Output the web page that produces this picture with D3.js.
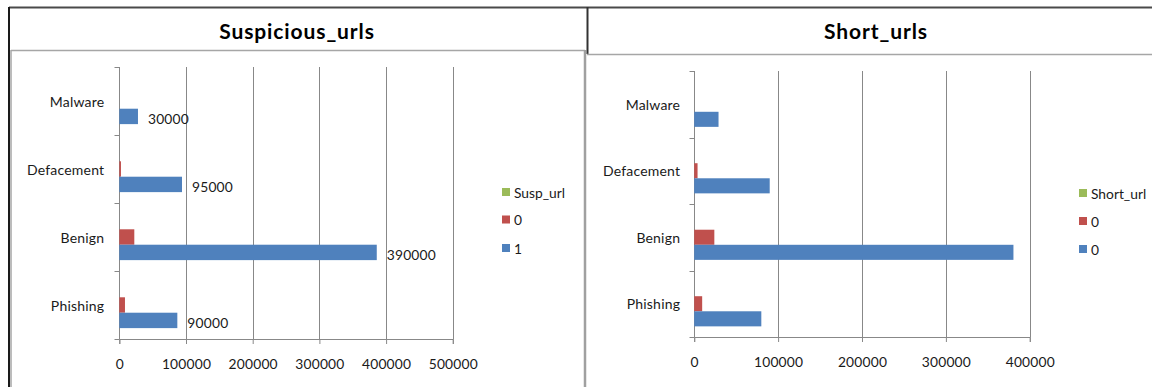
<!DOCTYPE html>
<html><head><meta charset="utf-8">
<script src="https://cdn.jsdelivr.net/npm/d3@7"></script>
<style>
html,body{margin:0;padding:0;background:#fff;}
svg{display:block;}
text{font-family:Lato,"Open Sans",sans-serif;fill:#1a1a1a;}
</style></head>
<body>
<svg id="c" width="1152" height="387"></svg>
<script>
// ---- data ----
const categories = ["Malware", "Defacement", "Benign", "Phishing"];

const suspTitle = "Suspicious_urls";
const suspSeriesNames = ["Susp_url", "0", "1"];
const suspUrl = [0, 0, 0, 0];
const susp0 = [0, 2500, 22500, 8500];
const susp1 = [28000, 94000, 386000, 87000];
const susp1Labels = ["30000", "95000", "390000", "90000"];
const suspTicks = [0, 100000, 200000, 300000, 400000, 500000];

const shortTitle = "Short_urls";
const shortSeriesNames = ["Short_url", "0", "0"];
const shortUrl = [0, 0, 0, 0];
const short0a = [0, 4000, 24000, 9500];
const short0b = [29000, 90000, 380500, 80000];
const shortTicks = [0, 100000, 200000, 300000, 400000];

const colors = ["#9BBB59", "#C0504D", "#4F81BD"];

const svg = d3.select("#c");

// ---- frames ----
const frame = svg.append("g");
frame.append("line").attr("x1", 9).attr("x2", 1152).attr("y1", 7.5).attr("y2", 7.5).attr("stroke", "#4a4a4a").attr("stroke-width", 2);
frame.append("line").attr("x1", 9).attr("x2", 9).attr("y1", 7).attr("y2", 387).attr("stroke", "#1a1a1a").attr("stroke-width", 2);
frame.append("line").attr("x1", 11).attr("x2", 585).attr("y1", 50.5).attr("y2", 50.5).attr("stroke", "#a6a6a6").attr("stroke-width", 1.5);
frame.append("line").attr("x1", 11).attr("x2", 11).attr("y1", 50).attr("y2", 387).attr("stroke", "#a6a6a6").attr("stroke-width", 1.5);
frame.append("line").attr("x1", 585).attr("x2", 585).attr("y1", 50).attr("y2", 387).attr("stroke", "#a0a0a0").attr("stroke-width", 2.5);
frame.append("line").attr("x1", 587.5).attr("x2", 587.5).attr("y1", 7).attr("y2", 54).attr("stroke", "#333").attr("stroke-width", 2);
frame.append("line").attr("x1", 587).attr("x2", 1152).attr("y1", 54.5).attr("y2", 54.5).attr("stroke", "#a6a6a6").attr("stroke-width", 1.5);

function drawChart(cfg) {
  const g = svg.append("g");
  g.append("text").attr("x", cfg.titleX).attr("y", 39).attr("text-anchor", "middle")
    .style("font-weight", "bold").style("font-size", "21px").style("letter-spacing", "0.9px")
    .style("fill", "#000").text(cfg.title);

  const x = d3.scaleLinear().domain([0, cfg.ticks[cfg.ticks.length - 1]]).range([cfg.x0, cfg.x1]);
  const y = d3.scaleBand().domain(categories).range([cfg.y0, cfg.y1]).paddingInner(0.32).paddingOuter(0.16);
  const yStep = d3.scaleBand().domain(categories).range([cfg.y0, cfg.y1]);
  const ys = d3.scaleBand().domain([0, 1, 2]).range([0, y.bandwidth()]);

  // gridlines
  g.append("g").selectAll("line").data(cfg.ticks.slice(1)).join("line")
    .attr("x1", d => Math.round(x(d)) + 0.5).attr("x2", d => Math.round(x(d)) + 0.5)
    .attr("y1", cfg.y0).attr("y2", cfg.y1).attr("stroke", "#888").attr("stroke-width", 1);

  // x axis
  const xAxis = g.append("g").attr("transform", `translate(0,${cfg.y1})`)
    .call(d3.axisBottom(x).tickValues(cfg.ticks).tickSize(5).tickPadding(15).tickFormat(d3.format("d")));
  xAxis.select(".domain").attr("stroke", "#888");
  xAxis.selectAll(".tick line").attr("stroke", "#888");
  xAxis.selectAll("text").style("font-size", "13.8px").style("letter-spacing", "0.2px").style("fill", "#1a1a1a").attr("font-family", null);

  // y axis
  const yAxisG = g.append("g").attr("transform", `translate(${Math.round(cfg.x0) + 0.5},0)`);
  yAxisG.append("line").attr("y1", cfg.y0).attr("y2", cfg.y1).attr("stroke", "#888");
  const bounds = categories.map(c => yStep(c)).concat([cfg.y1]);
  yAxisG.selectAll("line.t").data(bounds).join("line").attr("class", "t")
    .attr("x1", -5).attr("x2", 0).attr("y1", d => Math.round(d) + 0.5).attr("y2", d => Math.round(d) + 0.5).attr("stroke", "#888");
  g.append("g").selectAll("text").data(categories).join("text")
    .attr("x", cfg.x0 - cfg.labelGap).attr("y", d => yStep(d) + yStep.step() / 2)
    .attr("text-anchor", "end").attr("dominant-baseline", "central")
    .style("font-size", "14px").style("letter-spacing", "0.2px").text(d => d);

  // bars
  cfg.series.forEach((vals, si) => {
    g.append("g").selectAll("rect").data(vals).join("rect")
      .attr("x", x(0)).attr("y", (d, i) => y(categories[i]) + ys(si))
      .attr("width", d => x(d) - x(0)).attr("height", ys.bandwidth())
      .attr("fill", colors[si]);
  });

  // data labels
  if (cfg.labels) {
    const vals = cfg.series[2];
    g.append("g").selectAll("text").data(cfg.labels).join("text")
      .attr("x", (d, i) => x(vals[i]) + 10)
      .attr("y", (d, i) => y(categories[i]) + ys(2) + ys.bandwidth() / 2 + 2.5)
      .attr("dominant-baseline", "central").style("font-size", "13.8px").style("letter-spacing", "0.2px").text(d => d);
  }

  // legend
  const lg = g.append("g");
  cfg.names.forEach((n, i) => {
    const cy = cfg.legendY[i];
    lg.append("rect").attr("x", cfg.legendX).attr("y", cy - 4).attr("width", 8).attr("height", 8).attr("fill", colors[i]);
    lg.append("text").attr("x", cfg.legendX + 12).attr("y", cy).attr("dominant-baseline", "central")
      .style("font-size", "13.8px").text(n);
  });
}

drawChart({
  title: suspTitle, titleX: 297, x0: 119.3, x1: 452.8, y0: 67, y1: 339, labelGap: 15,
  ticks: suspTicks, series: [suspUrl, susp0, susp1], labels: susp1Labels, names: suspSeriesNames,
  legendX: 502, legendY: [192, 219.5, 248]
});
drawChart({
  title: shortTitle, titleX: 876, x0: 694.2, x1: 1029.8, y0: 71, y1: 337, labelGap: 14,
  ticks: shortTicks, series: [shortUrl, short0a, short0b], labels: null, names: shortSeriesNames,
  legendX: 1079, legendY: [193, 221, 249]
});
</script>
</body></html>
